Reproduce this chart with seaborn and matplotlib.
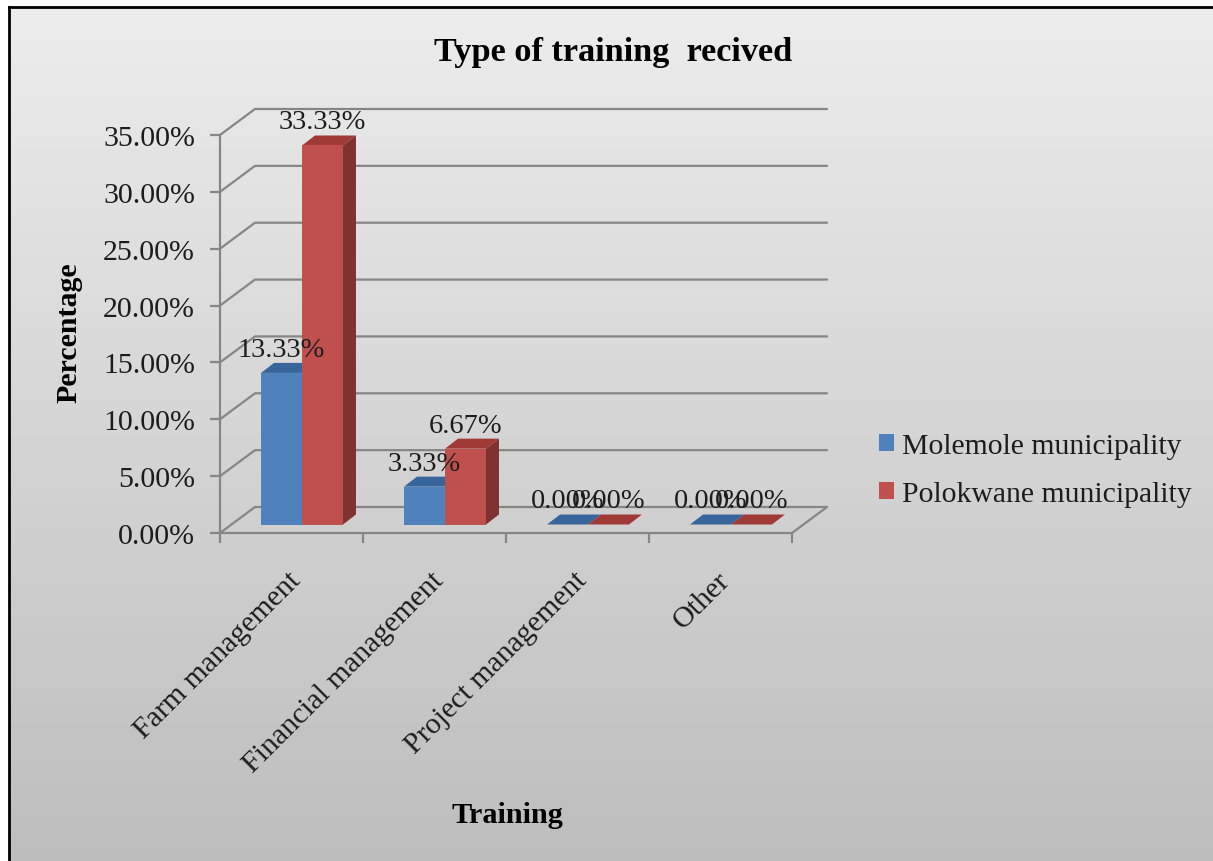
import numpy as np
import pandas as pd
import matplotlib
matplotlib.use("Agg")
import matplotlib.pyplot as plt
from matplotlib.patches import Polygon, Patch
from matplotlib.transforms import IdentityTransform
import seaborn as sns

categories = ["Farm management", "Financial management", "Project management", "Other"]
molemole = [13.33, 3.33, 0.0, 0.0]
polokwane = [33.33, 6.67, 0.0, 0.0]
series_names = ["Molemole municipality", "Polokwane municipality"]
y_ticks = [0, 5, 10, 15, 20, 25, 30, 35]

W, H = 1213, 862
GRID = "#868686"
INK = "#1c1c1c"
FRONT = ["#4F81BD", "#C0504D"]
TOP = ["#38659B", "#A03A37"]
SIDE = ["#2F5888", "#7F3230"]
# 3D look, in pixels
WALL_DX, WALL_DY = 35, 26
BAR_DX, BAR_DY = 10.5, 8.5
DEPTH_X, DEPTH_Y = 13, 10

sns.set_theme(style="white")
plt.rcParams["font.family"] = ["Liberation Serif", "DejaVu Serif"]

df = pd.DataFrame({
    "cat": categories * 2,
    "pct": molemole + polokwane,
    "series": [series_names[0]] * 4 + [series_names[1]] * 4,
})

fig = plt.figure(figsize=(W / 100, H / 100), dpi=100, facecolor="white")

# slide background with grey gradient and black frame
bg = fig.add_axes([9 / W, 0, 1 - 9 / W, 1 - 8 / H])
grad = np.linspace(0.925, 0.74, 256).reshape(-1, 1)
bg.imshow(grad, aspect="auto", cmap="gray", vmin=0, vmax=1)
bg.set_xticks([])
bg.set_yticks([])
for name, sp in bg.spines.items():
    sp.set_visible(name in ("left", "top"))
    sp.set_color("black")
    sp.set_linewidth(2)

ax = fig.add_axes([220 / W, 1 - 534 / H, 572 / W, 398 / H])
ax.patch.set_alpha(0)
sns.barplot(data=df, x="cat", y="pct", hue="series", order=categories,
            hue_order=series_names, palette=FRONT, width=0.573, gap=0,
            dodge=True, saturation=1, legend=False, linewidth=0, ax=ax)
ax.set_xlim(-0.5, 3.5)
ax.set_ylim(0, 35)

for name in ("top", "right"):
    ax.spines[name].set_visible(False)
for name in ("left", "bottom"):
    ax.spines[name].set_color(GRID)
    ax.spines[name].set_linewidth(1.6)

ax.set_yticks(y_ticks)
ax.set_yticklabels([f"{v:.2f}%" for v in y_ticks], fontsize=21.5, color=INK)
ax.set_xticks(np.arange(-0.5, 4, 1))
ax.set_xticklabels([])
ax.tick_params(axis="y", left=True, length=7, width=1.6, color=GRID, pad=11)
ax.tick_params(axis="x", bottom=True, length=7, width=1.6, color=GRID)
ax.set_xlabel("")
ax.set_ylabel("")

# back wall lines, floor edge
to_px = ax.transData.transform
pix = IdentityTransform()
for v in y_ticks:
    x0, y0 = to_px((-0.5, v))
    x1, _ = to_px((3.5, v))
    ax.plot([x0, x0 + WALL_DX, x1 + WALL_DX], [y0, y0 + WALL_DY, y0 + WALL_DY],
            color=GRID, lw=1.6, transform=pix, clip_on=False, zorder=0.5)
x1, y0 = to_px((3.5, 0))
ax.plot([x1, x1 + WALL_DX], [y0, y0 + WALL_DY], color=GRID, lw=1.6,
        transform=pix, clip_on=False, zorder=0.5)

# bars: shift the flat ones back on the floor and add top and side faces
bars = [p for p in ax.patches if p.get_width() > 0]
for i, bar in enumerate(bars):
    k = i // len(categories)
    xa, ya = to_px((bar.get_x(), 0))
    xb, yb = to_px((bar.get_x() + bar.get_width(), bar.get_height()))
    xa, xb = xa + BAR_DX, xb + BAR_DX
    ya, yb = ya + BAR_DY, yb + BAR_DY
    z = 2 + k
    ax.add_patch(Polygon([(xa, yb), (xb, yb), (xb + DEPTH_X, yb + DEPTH_Y), (xa + DEPTH_X, yb + DEPTH_Y)],
                         transform=pix, fc=TOP[k], ec="none", clip_on=False, zorder=z))
    ax.add_patch(Polygon([(xb, ya), (xb + DEPTH_X, ya + DEPTH_Y), (xb + DEPTH_X, yb + DEPTH_Y), (xb, yb)],
                         transform=pix, fc=SIDE[k], ec="none", clip_on=False, zorder=z))
    bar.set_transform(pix)
    bar.set_bounds(xa, ya, xb - xa, yb - ya)
    bar.set_edgecolor("none")
    bar.set_clip_on(False)
    bar.set_zorder(z + 0.5)
    ax.text((xa + xb) / 2, yb + 17, f"{df['pct'].iloc[i]:.2f}%", transform=pix,
            ha="center", va="baseline", fontsize=20.5, color=INK, zorder=6)

# rotated category labels
for i, c in enumerate(categories):
    x, y = to_px((i, 0))
    ax.text(x + 5, y - 43, c, transform=pix, rotation=45, rotation_mode="anchor",
            ha="right", va="center", fontsize=21.5, color=INK, clip_on=False)

fig.text(613 / W, 1 - 52 / H, "Type of training  recived", ha="center", va="center",
         fontsize=24.7, fontweight="bold", color="black")
fig.text(69 / W, 1 - 333 / H, "Percentage", rotation=90, ha="center", va="center",
         fontsize=21.5, fontweight="bold", color="black")
fig.text(507 / W, 1 - 816 / H, "Training", ha="center", va="center",
         fontsize=21.8, fontweight="bold", color="black")

handles = [Patch(fc=c, ec="none") for c in FRONT]
fig.legend(handles, series_names, loc="center left",
           bbox_to_anchor=(879 / W, 1 - 471 / H), frameon=False, fontsize=21.4,
           labelcolor=INK, handlelength=0.5, handleheight=0.5,
           handletextpad=0.27, labelspacing=0.72, borderpad=0, borderaxespad=0)

fig.savefig("out.png", dpi=100)
